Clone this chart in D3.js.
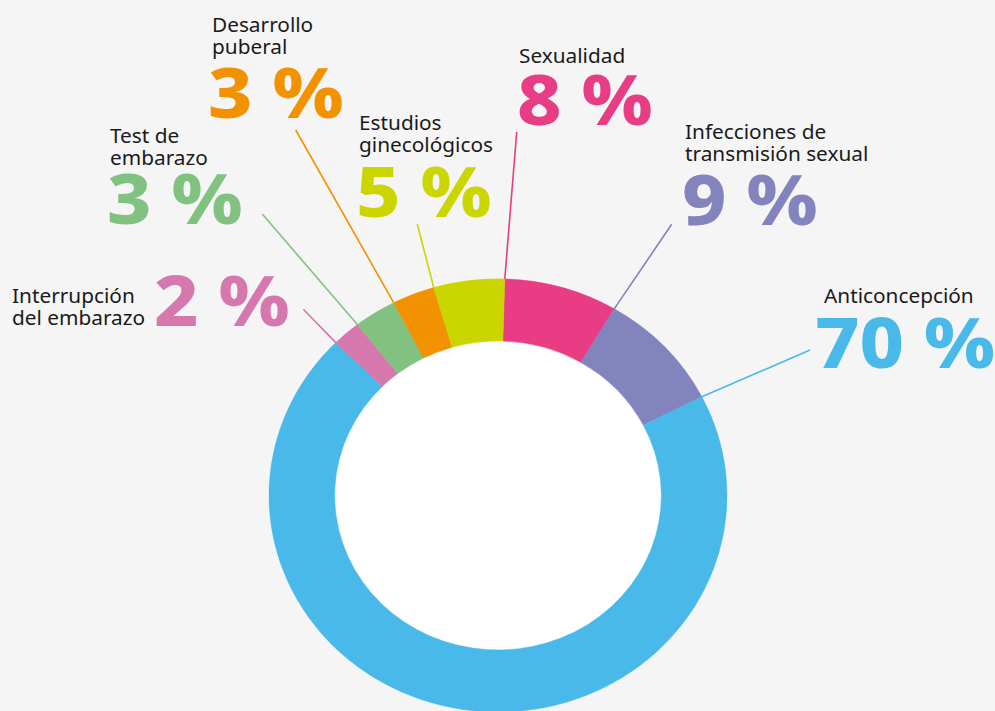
<!DOCTYPE html>
<html>
<head>
<meta charset="utf-8">
<script src="https://cdn.jsdelivr.net/npm/d3@7/dist/d3.min.js"></script>
<style>
  html, body { margin: 0; padding: 0; background: #f5f5f5; }
  svg { display: block; }
</style>
</head>
<body>
<script>
// ---- data ----
const categories = ["Sexualidad", "Infecciones de transmisión sexual", "Anticoncepción",
  "Interrupción del embarazo", "Test de embarazo", "Desarrollo puberal", "Estudios ginecológicos"];
const values = [8, 9, 70, 2, 3, 3, 5];
const labelLines = [["Sexualidad"], ["Infecciones de", "transmisión sexual"], ["Anticoncepción"],
  ["Interrupción", "del embarazo"], ["Test de", "embarazo"], ["Desarrollo", "puberal"], ["Estudios", "ginecológicos"]];
const pctLabels = ["8 %", "9 %", "70 %", "2 %", "3 %", "3 %", "5 %"];
const colors = ["#e83c84", "#8383be", "#49b9ea", "#d677ae", "#81c281", "#f39200", "#cbd500"];

// ---- layout (positions only) ----
const W = 995, H = 711;
const cx = 498, cy = 495.5, rOuter = 229, rInner = 163.3, ySquash = 0.946;
const startOffset = 1.7 * Math.PI / 180;
// label anchors: text x, first baseline, pct x, pct baseline, leader-line outer end
const layout = [
  { tx: 519, ty: 62.7, px: 517, py: 125, lx: 516.7, ly: 132 },
  { tx: 685, ty: 139, px: 682, py: 225, lx: 671.7, ly: 224.3 },
  { tx: 824, ty: 302.7, px: 815, py: 368.3, lx: 810, ly: 350 },
  { tx: 12, ty: 303, px: 154, py: 326, lx: 303.3, ly: 309.3 },
  { tx: 110, ty: 142.7, px: 107, py: 224, lx: 262.3, ly: 214 },
  { tx: 212, ty: 32.3, px: 208, py: 118.3, lx: 295.7, ly: 130 },
  { tx: 359, ty: 130, px: 356, py: 216.7, lx: 417.3, ly: 224.3 }
];

const svg = d3.select("body").append("svg").attr("width", W).attr("height", H);
svg.append("rect").attr("width", W).attr("height", H).attr("fill", "#f5f5f5");

const data = categories.map((c, i) => ({ name: c, value: values[i], color: colors[i], i }));
const pie = d3.pie().value(d => d.value).sort(null)
  .startAngle(startOffset).endAngle(startOffset + 2 * Math.PI);
const arcs = pie(data);
const arc = d3.arc().innerRadius(rInner).outerRadius(rOuter);

const donut = svg.append("g").attr("transform", `translate(${cx},${cy}) scale(1,${ySquash})`);
donut.append("circle").attr("r", rInner + 1).attr("fill", "#ffffff");
donut.selectAll("path.slice").data(arcs).join("path")
  .attr("class", "slice")
  .attr("d", arc)
  .attr("fill", d => d.data.color)
  .attr("stroke", d => d.data.color)
  .attr("stroke-width", 0.5);

// leader lines: from label to start angle of the segment on outer radius
svg.selectAll("line.leader").data(arcs).join("line")
  .attr("class", "leader")
  .attr("x1", d => layout[d.index].lx)
  .attr("y1", d => layout[d.index].ly)
  .attr("x2", d => cx + rOuter * Math.sin(d.startAngle))
  .attr("y2", d => cy - rOuter * Math.cos(d.startAngle) * ySquash)
  .attr("stroke", d => d.data.color)
  .attr("stroke-width", 1.6);

const lbl = svg.selectAll("g.lbl").data(data).join("g").attr("class", "lbl");
lbl.each(function (d, i) {
  const g = d3.select(this);
  const L = layout[i];
  const t = g.append("text")
    .attr("font-family", "'Noto Sans', 'Open Sans', sans-serif")
    .attr("font-size", 20.8)
    .attr("fill", "#1a1a1a");
  labelLines[i].forEach((s, k) => {
    t.append("tspan").attr("x", L.tx).attr("y", L.ty + k * 22).text(s);
  });
  g.append("text")
    .attr("transform", `translate(${L.px},${L.py}) scale(1.1,1)`)
    .attr("font-family", "'Noto Sans', 'Open Sans', sans-serif")
    .attr("font-weight", 800)
    .attr("font-size", 70)
    .attr("fill", d.color)
    .text(pctLabels[i]);
});
</script>
</body>
</html>
